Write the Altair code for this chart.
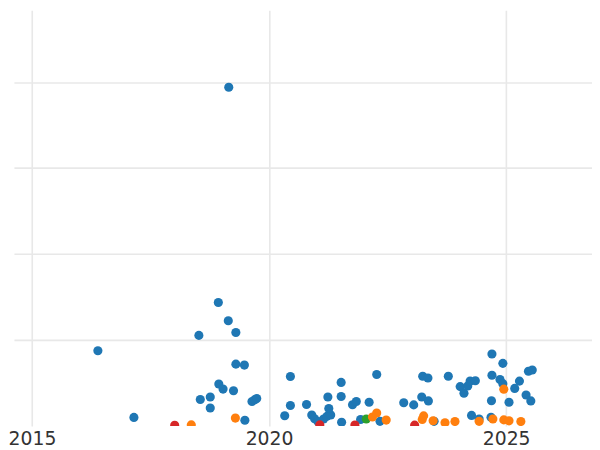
import altair as alt
import pandas as pd

# Blue series (decimal year, value)
blue_x = [2019.15, 2016.39, 2018.93, 2018.52, 2019.14, 2019.30, 2017.15, 2019.30, 2019.48,
          2018.94, 2019.03, 2019.25, 2018.55, 2018.76, 2018.76, 2019.64, 2019.70, 2019.74,
          2019.49, 2020.45, 2020.45, 2020.33, 2020.79, 2020.90, 2020.96, 2021.03, 2021.15,
          2021.22, 2021.30, 2021.26, 2021.24, 2021.52, 2021.52, 2021.53, 2021.76, 2021.84,
          2021.93, 2022.11, 2022.27, 2022.34, 2022.84, 2023.05, 2023.24, 2023.35, 2023.22,
          2023.36, 2023.48, 2023.78, 2024.03, 2024.19, 2024.24, 2024.35, 2024.11, 2024.27,
          2024.43, 2024.70, 2024.93, 2024.70, 2024.87, 2024.93, 2024.69, 2025.06, 2024.68,
          2025.18, 2025.28, 2025.42, 2025.52, 2025.47, 2025.55]
blue_y = [394.1, 86.9, 143.1, 104.8, 121.8, 108.2, 9.2, 71.3, 70.2,
          48.2, 42.2, 40.2, 30.1, 33.0, 20.2, 27.7, 29.8, 31.3,
          5.9, 56.9, 23.1, 11.1, 24.3, 12.0, 7.7, 4.4, 7.3,
          10.4, 12.1, 19.6, 33.0, 50.0, 33.5, 3.6, 24.0, 27.8,
          6.7, 26.9, 59.2, 4.6, 26.3, 23.8, 57.2, 55.2, 33.0,
          28.4, 4.6, 57.1, 45.1, 45.9, 51.7, 51.9, 37.3, 11.5,
          7.3, 83.1, 72.2, 58.4, 53.4, 48.5, 28.6, 26.9, 9.3,
          43.0, 51.5, 35.3, 28.4, 63.0, 64.4]

red_x = [2018.01, 2021.07, 2021.81, 2023.07]
red_y = [0.0, 0.5, 0.3, 0.2]

green_x = [2022.05]
green_y = [7.3]

orange_x = [2018.36, 2019.29, 2022.18, 2022.27, 2022.47, 2023.23, 2023.26, 2023.46,
            2023.71, 2023.92, 2024.43, 2024.72, 2024.95, 2024.95, 2025.06, 2025.31]
orange_y = [0.5, 8.4, 9.6, 14.4, 6.1, 6.7, 11.0, 5.3,
            3.0, 4.4, 4.6, 7.3, 42.1, 6.3, 5.2, 4.4]

series = ["blue", "red", "green", "orange"]
colors = ["#1f77b4", "#d62728", "#2ca02c", "#ff7f0e"]

rows = []
for name, xs, ys in [("blue", blue_x, blue_y), ("red", red_x, red_y),
                     ("green", green_x, green_y), ("orange", orange_x, orange_y)]:
    for x, y in zip(xs, ys):
        rows.append({"year": x, "value": y, "series": name})
df = pd.DataFrame(rows)

x_ticks = [2015, 2020, 2025]
y_ticks = [100, 200, 300, 400]

chart = alt.Chart(df).mark_circle(size=85, opacity=1, clip=True).encode(
    x=alt.X("year:Q",
            scale=alt.Scale(domain=[2014.62, 2026.81], nice=False, zero=False),
            axis=alt.Axis(values=x_ticks, format="d", title=None, ticks=False, tickSize=0,
                          domain=False, labelFontSize=19, labelColor="#333333",
                          labelFont="DejaVu Sans", labelPadding=4,
                          gridColor="#e8e8e8", gridWidth=1.6)),
    y=alt.Y("value:Q",
            scale=alt.Scale(domain=[-0.8, 483.8], nice=False, zero=False),
            axis=alt.Axis(values=y_ticks, labels=False, title=None, ticks=False, tickSize=0,
                          domain=False, gridColor="#e8e8e8", gridWidth=1.6)),
    color=alt.Color("series:N", scale=alt.Scale(domain=series, range=colors), legend=None),
    order=alt.Order("ord:Q"),
).transform_calculate(
    ord="indexof(['blue','red','green','orange'], datum.series)"
).properties(
    width=584, height=420, padding=0
).configure_view(stroke=None)

chart.save("out.html", embed_options={"renderer": "svg", "actions": False})
